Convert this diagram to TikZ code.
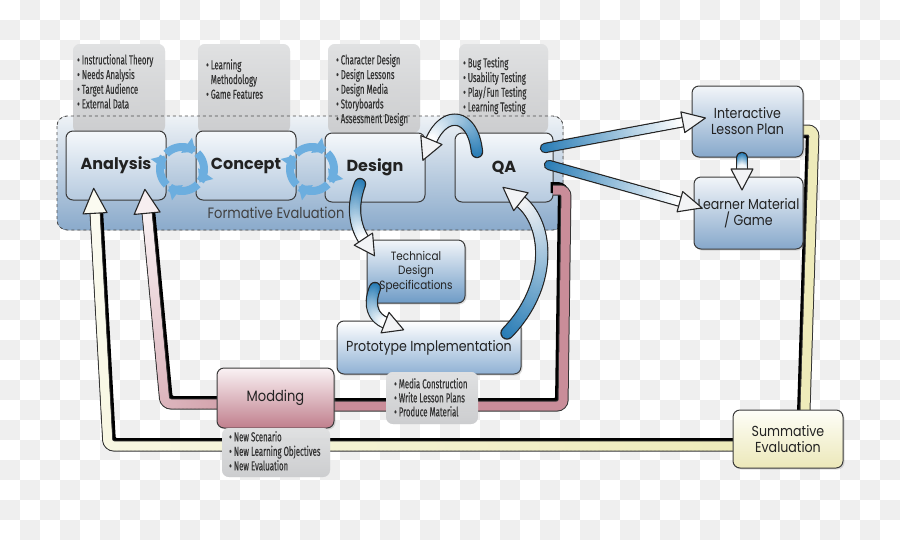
\documentclass[tikz,border=0pt]{standalone}
\usepackage{fontspec}
\usetikzlibrary{arrows.meta,decorations.markings,shadows}
\newfontfamily\lblfont[FakeStretch=0.87]{Poppins}
\newfontfamily\titlefont{Poppins}
\newfontfamily\notefont[FakeStretch=0.6,FakeBold=0.35]{Fira Sans}
\definecolor{chk}{HTML}{EFEFEF}
\definecolor{notetop}{HTML}{E0E1E2}
\definecolor{notebot}{HTML}{CBCCCE}
\definecolor{regtop}{HTML}{EEF2F6}
\definecolor{regbot}{HTML}{8AAACB}
\definecolor{intop}{HTML}{F5F8FB}
\definecolor{inbot}{HTML}{B6CADF}
\definecolor{rtop}{HTML}{F2F5F9}
\definecolor{rbot}{HTML}{86A8CB}
\definecolor{techbot}{HTML}{6E9BC6}
\definecolor{protobot}{HTML}{8FB1D4}
\definecolor{modtop}{HTML}{FAF2F4}
\definecolor{modbot}{HTML}{C07F8D}
\definecolor{sumtop}{HTML}{FEFEF8}
\definecolor{sumbot}{HTML}{ECE8B9}
\definecolor{cyc}{HTML}{6CAEDF}
\definecolor{arrblue}{HTML}{2A7DB6}
\definecolor{headfill}{HTML}{F2F3F5}
\definecolor{pinkpipe}{HTML}{C98D99}
\definecolor{pinklight}{HTML}{F7EEF0}
\definecolor{yelpipe}{HTML}{EEEBBA}
\definecolor{yellight}{HTML}{FBFBF1}
\definecolor{txt}{HTML}{222222}
\definecolor{notetxt}{HTML}{333333}
\definecolor{edge}{HTML}{3A3A3A}

% gradient band along a path
\newcommand\fatbody[4]{%
  \path[decoration={markings, mark=between positions 0 and 1 step 0.8pt with {%
    \pgfmathtruncatemacro\pc{\pgfkeysvalueof{/pgf/decoration/mark info/distance from start}/\pgfdecoratedpathlength*100}%
    \fill[#3!\pc!#2] (0,0) circle (#1/2);}}, decorate] #4;}
\newcommand\fathead[4]{%
  \path[decoration={markings, mark=at position 0.999 with {%
    \filldraw[fill=#4, draw=black!85, line width=1.1pt, line join=round] (-1,-#2/2) -- (#3,0) -- (-1,#2/2) -- cycle;}}, decorate] #1;}
\newcommand\fatarrow[7]{%
  \draw[line width=#1pt+2.4pt, black!85, line cap=round, line join=round] #7;
  \fatbody{#1}{#2}{#3}{#7}%
  \fathead{#7}{#4}{#5}{#6}}

\tikzset{
  notebox/.style={fill=notetop, top color=notetop, bottom color=notebot, rounded corners=7pt, draw=none, opacity=0.92},
  notetext/.style={anchor=north west, inner sep=0pt, align=left, text=notetxt, font=\notefont\fontsize{13}{14.7}\selectfont},
  inbox/.style={draw=edge, line width=1pt, rounded corners=7pt, top color=intop, bottom color=inbot, text=txt},
  rbox/.style={draw=edge, line width=1pt, rounded corners=7pt, top color=rtop, bottom color=rbot, text=txt, align=center,
     drop shadow={opacity=0.25, shadow xshift=1.5pt, shadow yshift=-1.5pt}},
  bigtitle/.style={font=\titlefont\bfseries\fontsize{16}{18}\selectfont},
  lbl/.style={font=\lblfont\fontsize{14.5}{18}\selectfont}
}

\begin{document}
\begin{tikzpicture}[x=1pt,y=-1pt]
\useasboundingbox (0,0) rectangle (900,539);
% checkerboard background
\foreach \i in {0,...,44}{\foreach \j in {0,...,26}{%
  \pgfmathtruncatemacro\odd{mod(\i+\j,2)}%
  \ifnum\odd=1 \fill[chk] (\i*20,\j*20) rectangle ++(20,20);\fi}}

% formative evaluation region (fill)
\fill[rounded corners=10pt, top color=regtop, bottom color=regbot] (57,116) rectangle (563,230);
% top note boxes
\fill[notebox] (73,44) rectangle (165,133);
\fill[notebox] (198,44) rectangle (290,133);
\fill[notebox] (328,44) rectangle (420,133);
\fill[notebox] (459,44) rectangle (548,133);
\node[notetext] (n1) at (77,54) {• Instructional Theory\\• Needs Analysis\\• Target Audience\\• External Data};
\node[notetext] (n2) at (206,59) {• Learning\\\hphantom{• }Methodology\\• Game Features};
\node[notetext] (n3) at (336,54) {• Character Design\\• Design Lessons\\• Design Media\\• Storyboards\\• Assessment Design};
\node[notetext] (n4) at (463,57) {• Bug Testing\\• Usability Testing\\• Play/Fun Testing\\• Learning Testing};
% region border
\draw[rounded corners=10pt, dashed, draw=black!70, line width=0.9pt] (57,116) rectangle (563,230);
\node[lbl, font=\lblfont\fontsize{15}{18}\selectfont, text=black!75] (fe) at (276,213) {Formative Evaluation};

% inner boxes
\node[inbox, bigtitle, minimum width=100pt, minimum height=69pt] (an) at (116,165.5) {Analysis};
\node[inbox, bigtitle, minimum width=100pt, minimum height=69pt] (co) at (246,165.5) {Concept};
\node[inbox, bigtitle, minimum width=100pt, minimum height=69pt] (de) at (375,167.5) {Design};
\node[inbox, bigtitle, minimum width=98pt, minimum height=69pt] (qa) at (504,167.5) {QA};

% cycle arrows
\foreach \cx in {182,312}{
 \foreach \k in {0,1,2,3}{
  \pgfmathsetmacro\aa{-136+90*\k}\pgfmathsetmacro\bb{-52+90*\k}
  \draw[cyc, line width=8pt, -{Triangle[width=18pt,length=11pt]}]
    plot[domain=\aa:\bb, samples=18, variable=\t] ({\cx+22*cos(\t)},{169+22*sin(\t)});
 }}

% ---- pipes ----
% yellow: summative -> analysis
\draw[black, line width=11pt, rounded corners=6pt, xshift=2.5pt, yshift=2.5pt] (733,446) -- (108,446) -- (95,212);
\draw[black!80, line width=11pt, rounded corners=6pt] (733,446) -- (108,446) -- (95,212);
\fatbody{9}{yelpipe}{yellight}{[rounded corners=6pt] (733,446) -- (108,446) -- (95,212)}
\fathead{(108,446) -- (95,212)}{24}{24}{yellight}
% pink: modding -> analysis
\draw[black, line width=11pt, rounded corners=6pt, xshift=2.5pt, yshift=2.5pt] (217,404) -- (165,404) -- (147,212);
\draw[black!80, line width=11pt, rounded corners=6pt] (217,404) -- (165,404) -- (147,212);
\fatbody{9}{pinkpipe!80}{pinklight}{[rounded corners=6pt] (217,404) -- (165,404) -- (147,212)}
\fathead{(165,404) -- (147,212)}{26}{23}{pinklight}
% pink: modding -> QA
\draw[black, line width=11pt, rounded corners=6pt, xshift=-2.5pt, yshift=2.5pt] (334,406) -- (563,406) -- (566,190) -- (553,190);
\draw[black!80, line width=11pt, rounded corners=6pt] (334,406) -- (563,406) -- (566,190) -- (553,190);
\draw[pinkpipe, line width=9pt, rounded corners=6pt] (334,406) -- (563,406) -- (566,190) -- (553,190);
% yellow: summative -> interactive
\draw[black, line width=11pt, rounded corners=6pt, xshift=-2.5pt, yshift=-2.5pt] (805,410) -- (814,130) -- (803,130);
\draw[black!80, line width=11pt, rounded corners=6pt] (805,410) -- (814,130) -- (803,130);
\draw[yelpipe, line width=9pt, rounded corners=6pt] (805,410) -- (814,130) -- (803,130);

% ---- other boxes ----
\node[rbox, lbl, minimum width=111pt, minimum height=71pt] (ilp) at (747.5,121.5) {Interactive\\[-2pt]Lesson Plan};
\node[rbox, lbl, minimum width=109pt, minimum height=72pt] (lm) at (748.5,213) {Learner Material\\[-2pt]/ Game};
\node[rbox, bottom color=techbot, font=\lblfont\fontsize{12}{14.5}\selectfont, minimum width=98pt, minimum height=63pt] (tds) at (416,271.5) {Technical\\Design\\Specifications};
\node[rbox, top color=white, bottom color=protobot, font=\lblfont\fontsize{14.5}{18}\selectfont, minimum width=184pt, minimum height=53pt] (pi) at (429,347.5) {Prototype Implementation};
\node[rbox, top color=modtop, bottom color=modbot, lbl, font=\lblfont\fontsize{15}{18}\selectfont, minimum width=117pt, minimum height=60pt] (mo) at (275.5,398) {Modding};
\node[rbox, top color=sumtop, bottom color=sumbot, lbl, minimum width=110pt, minimum height=58pt] (se) at (788,439) {Summative\\[-2pt]Evaluation};

% bottom notes
\fill[notebox] (386,372) rectangle (478,424);
\node[notetext, font=\notefont\fontsize{13}{14}\selectfont] (n5) at (394,378) {• Media Construction\\• Write Lesson Plans\\• Produce Material};
\fill[notebox] (222,428) rectangle (330,477);
\node[notetext, font=\notefont\fontsize{13}{14.5}\selectfont] (n6) at (229,431) {• New Scenario\\• New Learning Objectives\\• New Evaluation};

% ---- blue arrows ----
\fatarrow{8}{arrblue}{white}{21}{22}{headfill}{(545,148) -- (684,122)}
\fatarrow{8}{arrblue}{white}{21}{22}{headfill}{(549,165) -- (681,202)}
\fatarrow{10}{arrblue}{white}{22}{20}{headfill}{(742,158) -- (742,170)}
\fatarrow{10}{arrblue}{white}{23}{21}{headfill}{(477,152) .. controls (473,112) and (444,110) .. (431,141)}
\fatarrow{10}{arrblue}{white}{22}{19}{headfill}{(360,184) .. controls (352,205) and (354,225) .. (364,240)}
\fatarrow{10}{arrblue}{white}{22}{19}{headfill}{(375,288) .. controls (368,305) and (373,318) .. (386,323)}
\fatarrow{11}{arrblue}{headfill}{23}{22}{headfill}{(507,333) .. controls (552,287) and (550,225) .. (520,201)}
\end{tikzpicture}
\end{document}
